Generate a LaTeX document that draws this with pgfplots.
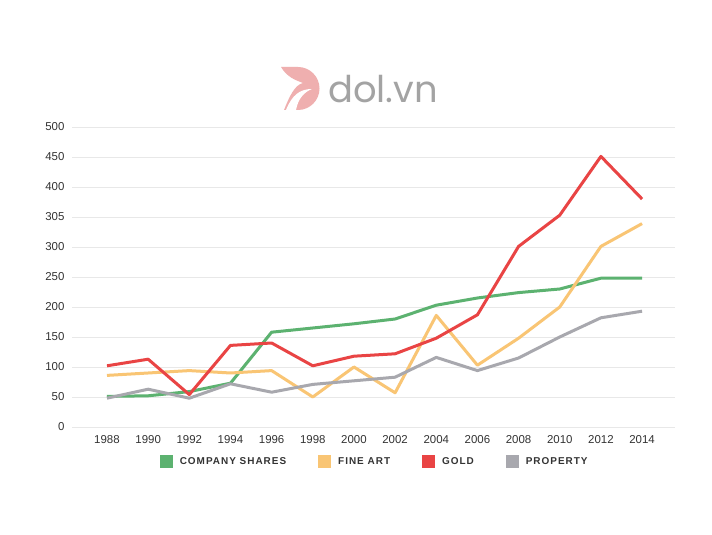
\documentclass[border=0pt]{standalone}
\usepackage{pgfplots}
\pgfplotsset{compat=1.18}
\usepackage{fontspec}
\setmainfont{Liberation Sans}
\newfontfamily\legfont[LetterSpace=10]{Liberation Sans}
\newfontfamily\logofont{Poppins}
\definecolor{cgreen}{HTML}{5CB270}
\definecolor{cyellow}{HTML}{F9C574}
\definecolor{cred}{HTML}{E94444}
\definecolor{cgrey}{HTML}{A8A8AE}
\definecolor{gridc}{HTML}{E8E8E8}
\definecolor{labc}{HTML}{333333}
\definecolor{logopink}{HTML}{EFAFAF}
\definecolor{logogrey}{HTML}{A3A3A3}
\begin{document}
\begin{tikzpicture}
\useasboundingbox[fill=white] (0,0) rectangle (712bp,535bp);
% logo
\fill[logopink] (281bp,468bp) -- (298bp,468bp) arc[start angle=90,end angle=-90,radius=21.5bp] -- (284bp,425bp) .. controls (290bp,440bp) and (295bp,450bp) .. (303bp,452bp) .. controls (295bp,455bp) and (287bp,458bp) .. cycle;
\fill[white] (286bp,425bp) .. controls (292bp,440bp) and (300bp,446bp) .. (312bp,446bp) .. controls (304bp,443bp) and (298bp,436bp) .. (296bp,425bp) -- cycle;
\node[anchor=west, inner sep=0pt, text=logogrey] at (328bp,446bp) {\logofont\fontsize{37}{40}\selectfont dol.vn};
\begin{axis}[
  at={(72bp,108bp)}, anchor=south west,
  scale only axis, width=603bp, height=300bp,
  xmin=1986.3, xmax=2015.6, ymin=0, ymax=500,
  axis line style={draw=none},
  ytick={0,50,...,500},
  yticklabels={0,50,100,150,200,250,300,305,400,450,500},
  xtick={1988,1990,...,2014},
  ymajorgrids, grid style={color=gridc, line width=0.8bp},
  major tick length=0pt,
  /pgf/number format/1000 sep={},
  /pgf/number format/assume math mode=true,
  tick label style={font=\fontsize{11.5}{13}\selectfont, color=labc},
  yticklabel style={xshift=-4bp},
  xticklabel style={yshift=-5bp},
  clip=false,
  legend columns=4,
  legend style={at={(0.502,-0.115)}, anchor=center, draw=none, fill=none,
    font=\legfont\bfseries\fontsize{10}{12}\selectfont, text=labc,
    /tikz/every odd column/.append style={column sep=5bp},
    /tikz/every even column/.append style={column sep=30bp}},
  legend image code/.code={\fill[#1, draw=none] (0bp,-6.5bp) rectangle (13bp,6.5bp);},
  every axis plot/.append style={line width=3bp, line join=round},
]
\addplot[color=cgreen, mark=none] coordinates {(1988,51)(1990,52)(1992,59)(1994,73)(1996,158)(1998,165)(2000,172)(2002,180)(2004,203)(2006,215)(2008,224)(2010,230)(2012,248)(2014,248)};
\addlegendentry{COMPANY SHARES}
\addplot[color=cyellow, mark=none] coordinates {(1988,86)(1990,90)(1992,94)(1994,90)(1996,94)(1998,50)(2000,100)(2002,57)(2004,186)(2006,103)(2008,148)(2010,200)(2012,301)(2014,339)};
\addlegendentry{FINE ART}
\addplot[color=cred, mark=none] coordinates {(1988,102)(1990,113)(1992,54)(1994,136)(1996,140)(1998,102)(2000,118)(2002,122)(2004,148)(2006,187)(2008,301)(2010,353)(2012,451)(2014,380)};
\addlegendentry{GOLD}
\addplot[color=cgrey, mark=none] coordinates {(1988,48)(1990,63)(1992,48)(1994,72)(1996,58)(1998,71)(2000,77)(2002,83)(2004,116)(2006,94)(2008,115)(2010,150)(2012,182)(2014,193)};
\addlegendentry{PROPERTY}
\end{axis}
\end{tikzpicture}
\end{document}
